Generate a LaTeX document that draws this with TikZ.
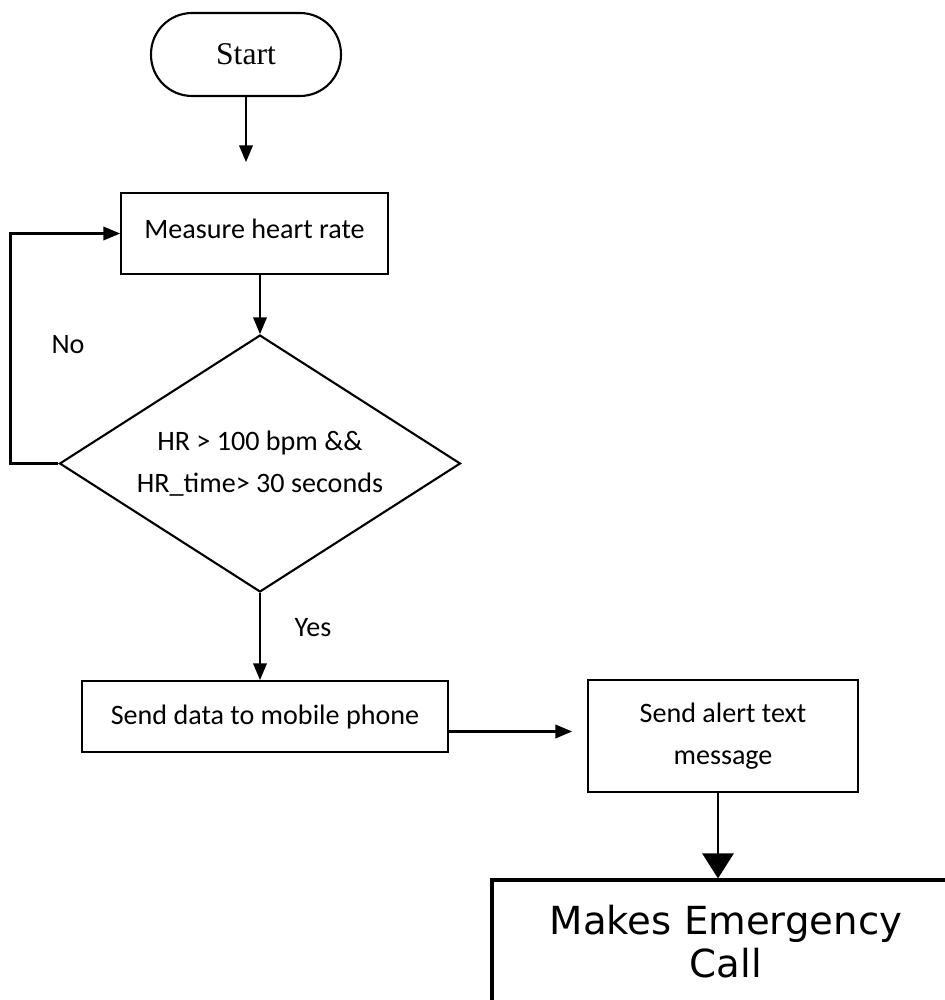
\documentclass[tikz,border=0pt]{standalone}
\usepackage{fontspec}
\setmainfont{Carlito}
\newfontfamily\startfont{Liberation Serif}
\newfontfamily\callfont{DejaVu Sans}
\usetikzlibrary{shapes}
\usetikzlibrary{shapes.geometric}
\usetikzlibrary{arrows}
\usetikzlibrary{arrows.meta}
\usetikzlibrary{calc}
\usetikzlibrary{positioning}

\begin{document}
\begin{tikzpicture}[x=0.02cm,y=-0.02cm,>=triangle 45,line width=1.2pt]
\tikzstyle{terminal}=[rectangle,draw,rounded corners=8.2mm,minimum width=3.8cm,
minimum height=1.66cm,inner sep=0pt,font=\startfont\fontsize{18}{20}\selectfont]
\tikzstyle{process}=[rectangle,draw,inner sep=0pt,align=center,
font=\fontsize{16}{24}\selectfont]
\tikzstyle{decision}=[diamond,draw,inner sep=0pt,aspect=1.56,align=center,
minimum width=8.02cm,minimum height=5.14cm,font=\fontsize{16}{24}\selectfont]
\tikzstyle{lbl}=[inner sep=0pt,font=\fontsize{16}{18}\selectfont]
\useasboundingbox (0,0) rectangle (945,1000);
\clip (0,0) rectangle (945,1000);
% nodes
\node[terminal] (start) at (246,54.5) {Start};
\coordinate (start end) at (246,162);
\node[process,minimum width=5.34cm,minimum height=1.62cm] (measure) at (254.5,233.5) {\raisebox{0.2cm}{Measure heart rate}};
\node[decision] (check) at (260,463.5) {HR > 100 bpm \&\&\\HR\_time> 30 seconds};
\node[process,minimum width=7.32cm,minimum height=1.42cm] (send data) at (265,716.5) {Send data to mobile phone};
\node[process,minimum width=5.4cm,minimum height=2.24cm] (send alert) at (723,736) {Send alert text\\message};
\node[process,draw,line width=1.8pt,minimum width=9.36cm,minimum height=2.48cm,
font=\callfont\fontsize{22}{24.5}\selectfont] (call) at (726,942) {Makes Emergency\\Call};
\node[lbl] (no) at (68,345) {No};
\node[lbl] (yes) at (313,628) {Yes};
% connectors
\draw [->] (start) -- (start end);
\draw [->] (measure.south -| check.north) -- (check.north);
\draw [->] (check.west) -- ++(-48,0) |- (measure.west);
\draw [->] (check.south) -- (check.south |- send data.north);
\draw [->] ($(send data.east)+(0,15)$) -- ($(send alert.west |- send data.east)+(-15,15)$);
\draw [-{Triangle[length=0.5cm,width=0.62cm]},line width=1.6pt] (send alert.south -| 718,0) -- (call.north -| 718,0);
\end{tikzpicture}
\end{document}
